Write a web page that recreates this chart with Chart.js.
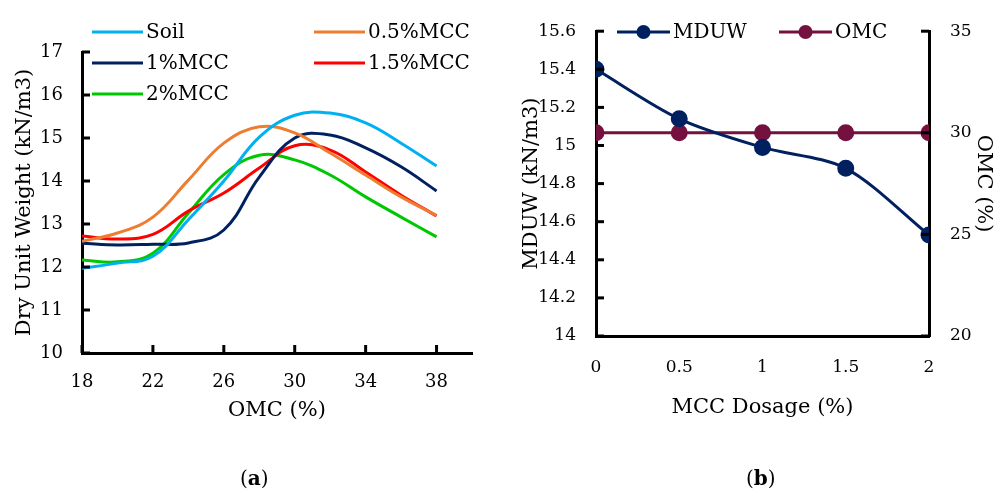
<!DOCTYPE html>
<html>
<head>
<meta charset="utf-8">
<script src="https://cdn.jsdelivr.net/npm/chart.js@4.4.1/dist/chart.umd.min.js"></script>
<style>
    html, body { margin: 0; padding: 0; background: #fff; }
    #wrap { position: relative; width: 1000px; height: 494px; overflow: hidden; }
    #chartA { position: absolute; left: 0; top: 0; }
    #chartB { position: absolute; left: 490px; top: 0; }
    .cap { position: absolute; top: 466px; font: 20px "DejaVu Serif", serif; color: #000; }
</style>
</head>
<body>
<div id="wrap">
    <canvas id="chartA" width="490" height="494"></canvas>
    <canvas id="chartB" width="510" height="494"></canvas>
    <div class="cap" style="left:240px">(<b>a</b>)</div>
    <div class="cap" style="left:746px">(<b>b</b>)</div>
</div>
<script>
// (a) compaction curves
const omc_x = [18, 20, 22, 24, 26, 28, 30, 32, 34, 36, 38]
const soil = [11.97, 12.09, 12.25, 13.1, 14.0, 15.02, 15.53, 15.58, 15.35, 14.88, 14.35]
const mcc05 = [12.6, 12.79, 13.16, 14.02, 14.88, 15.26, 15.12, 14.65, 14.14, 13.63, 13.2]
const mcc1 = [12.55, 12.51, 12.53, 12.56, 12.86, 14.09, 15.0, 15.07, 14.77, 14.33, 13.77]
const mcc15 = [12.72, 12.65, 12.76, 13.3, 13.72, 14.3, 14.82, 14.72, 14.21, 13.67, 13.19]
const mcc2 = [12.16, 12.12, 12.32, 13.25, 14.15, 14.6, 14.49, 14.14, 13.63, 13.16, 12.7]
const omc_ticks = [18, 22, 26, 30, 34, 38]

// (b) MDUW / OMC vs dosage
const dosage = [0, 0.5, 1, 1.5, 2]
const mduw = [15.4, 15.14, 14.99, 14.88, 14.53]
const omc = [30, 30, 30, 30, 30]
const dosage_ticks = [0, 0.5, 1, 1.5, 2]

const SERIF = '"DejaVu Serif", serif'
Chart.defaults.font.family = SERIF
Chart.defaults.color = '#000'

const pts = (xs, ys) => xs.map((x, i) => ({x: x, y: ys[i]}))
const plain = v => String(+(+v).toFixed(1))

const curve = (label, color, values) => ({
    label: label,
    data: pts(omc_x, values),
    borderColor: color,
    backgroundColor: color,
    borderWidth: 3,
    pointRadius: 0,
    tension: 0.4
})

// inward tick marks
const inwardTicks = {
    id: 'inwardTicks',
    afterDraw(chart, args, opts) {
        const ctx = chart.ctx
        ctx.save()
        ctx.strokeStyle = '#000'
        ctx.lineWidth = 3
        for (const id of opts.ids || []) {
            const s = chart.scales[id]
            if (!s) continue
            for (const t of s.ticks) {
                const p = s.getPixelForValue(t.value)
                ctx.beginPath()
                if (s.position === 'left') { ctx.moveTo(s.right, p); ctx.lineTo(s.right + 8, p) }
                else if (s.position === 'right') { ctx.moveTo(s.left, p); ctx.lineTo(s.left - 8, p) }
                else { ctx.moveTo(p, s.top); ctx.lineTo(p, s.top - 8) }
                ctx.stroke()
            }
        }
        ctx.restore()
    }
}

// legend drawn over the plot, as in the source figure
const overlayLegend = {
    id: 'overlayLegend',
    afterDraw(chart, args, opts) {
        const ctx = chart.ctx
        ctx.save()
        ctx.font = opts.font
        ctx.textBaseline = 'middle'
        chart.data.datasets.forEach((ds, i) => {
            const it = opts.items[i]
            ctx.strokeStyle = ds.borderColor
            ctx.lineWidth = 3
            ctx.beginPath()
            ctx.moveTo(it.x, it.y)
            ctx.lineTo(it.x + opts.lineLen, it.y)
            ctx.stroke()
            if (ds.pointRadius) {
                ctx.fillStyle = ds.borderColor
                ctx.beginPath()
                ctx.arc(it.x + opts.lineLen / 2, it.y, ds.pointRadius, 0, Math.PI * 2)
                ctx.fill()
            }
            ctx.fillStyle = '#000'
            ctx.fillText(ds.label, it.x + opts.lineLen + 3, it.y + 1)
        })
        ctx.restore()
    }
}

new Chart(document.getElementById('chartA'), {
    type: 'line',
    data: {
        datasets: [
            curve('Soil', '#00B0F0', soil),
            curve('0.5%MCC', '#ED7D31', mcc05),
            curve('1%MCC', '#002060', mcc1),
            curve('1.5%MCC', '#FF0000', mcc15),
            curve('2%MCC', '#00C800', mcc2)
        ]
    },
    plugins: [inwardTicks, overlayLegend],
    options: {
        responsive: false,
        animation: false,
        layout: { padding: { left: 0, right: 18, top: 52, bottom: 71 } },
        scales: {
            x: {
                type: 'linear',
                min: 18,
                max: 40,
                afterBuildTicks: s => { s.ticks = omc_ticks.map(v => ({value: v})) },
                afterFit: s => { s.height = 70 },
                ticks: { font: { size: 18 }, padding: 19, callback: plain },
                grid: { drawOnChartArea: false, drawTicks: false },
                border: { color: '#000', width: 3 },
                title: { display: true, text: 'OMC (%)', font: { size: 21 }, padding: 0 }
            },
            y: {
                min: 10,
                max: 17,
                ticks: { stepSize: 1, font: { size: 18 }, padding: 19 },
                afterFit: s => { s.width = 82 },
                grid: { drawOnChartArea: false, drawTicks: false },
                border: { color: '#000', width: 3 },
                title: { display: true, text: 'Dry Unit Weight (kN/m3)', font: { size: 21 }, padding: { top: 12, bottom: 0 } }
            }
        },
        plugins: {
            legend: { display: false },
            tooltip: { enabled: false },
            inwardTicks: { ids: ['x', 'y'] },
            overlayLegend: {
                font: '20px ' + SERIF,
                lineLen: 51,
                items: [
                    {x: 92, y: 32}, {x: 314, y: 32},
                    {x: 92, y: 63}, {x: 314, y: 63},
                    {x: 92, y: 94}
                ]
            }
        }
    }
})

new Chart(document.getElementById('chartB'), {
    type: 'line',
    data: {
        datasets: [{
            label: 'MDUW',
            data: pts(dosage, mduw),
            yAxisID: 'y',
            borderColor: '#002060',
            backgroundColor: '#002060',
            borderWidth: 3,
            pointRadius: 7,
            tension: 0.3
        }, {
            label: 'OMC',
            data: pts(dosage, omc),
            yAxisID: 'y1',
            borderColor: '#75113F',
            backgroundColor: '#75113F',
            borderWidth: 3,
            pointRadius: 7,
            tension: 0
        }]
    },
    plugins: [inwardTicks, overlayLegend],
    options: {
        responsive: false,
        animation: false,
        layout: { padding: { left: 0, right: 0, top: 20, bottom: 74 } },
        scales: {
            x: {
                type: 'linear',
                min: 0,
                max: 2,
                afterBuildTicks: s => { s.ticks = dosage_ticks.map(v => ({value: v})) },
                afterFit: s => { s.height = 84 },
                ticks: { font: { size: 17 }, padding: 21, callback: plain },
                grid: { drawOnChartArea: false, drawTicks: false },
                border: { color: '#000', width: 3 },
                title: { display: true, text: 'MCC Dosage (%)', font: { size: 21 }, padding: 0 }
            },
            y: {
                position: 'left',
                min: 14,
                max: 15.6,
                ticks: { stepSize: 0.2, font: { size: 17 }, padding: 20, callback: plain },
                afterFit: s => { s.width = 106 },
                grid: { drawOnChartArea: false, drawTicks: false },
                border: { color: '#000', width: 3 },
                title: { display: true, text: 'MDUW (kN/m3)', font: { size: 21 }, padding: { top: 29, bottom: 0 } }
            },
            y1: {
                position: 'right',
                min: 20,
                max: 35,
                ticks: { stepSize: 5, font: { size: 17 }, padding: 21 },
                afterFit: s => { s.width = 71 },
                grid: { drawOnChartArea: false, drawTicks: false },
                border: { color: '#000', width: 3 },
                title: { display: true, text: 'OMC (%)', font: { size: 21 }, padding: { top: 4, bottom: 0 } }
            }
        },
        plugins: {
            legend: { display: false },
            tooltip: { enabled: false },
            inwardTicks: { ids: ['y', 'y1'] },
            overlayLegend: {
                font: '20px ' + SERIF,
                lineLen: 53,
                items: [{x: 127, y: 32}, {x: 289, y: 32}]
            }
        }
    }
})
</script>
</body>
</html>
